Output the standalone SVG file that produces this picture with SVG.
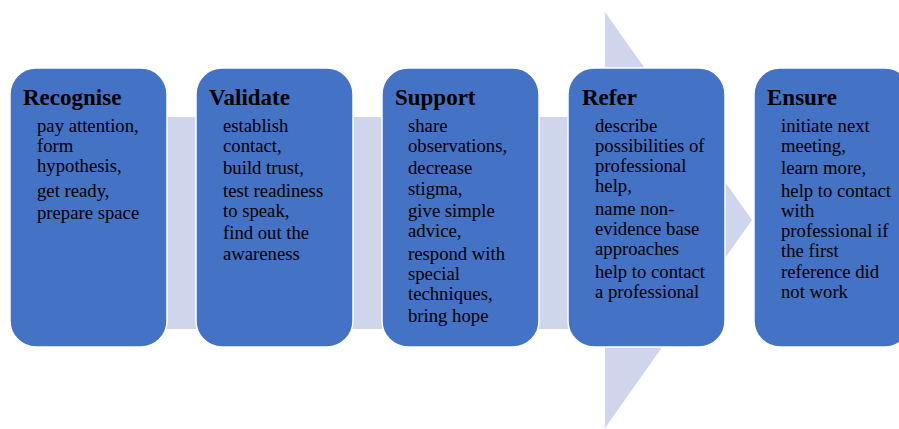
<svg xmlns="http://www.w3.org/2000/svg" width="899" height="429" viewBox="0 0 899 429">
  <style>
    .step { fill: #4472C4; stroke: #FFFFFF; stroke-width: 1.5; }
    .title { font-family: "Liberation Serif", "Times New Roman", serif; font-size: 23px; font-weight: bold; fill: #000000; }
    .body { font-family: "Liberation Serif", "Times New Roman", serif; font-size: 18.7px; fill: #000000; }
  </style>
  <rect width="899" height="429" fill="#FFFFFF"/>

  <!-- background process arrow -->
  <g id="connectors">
    <polygon points="10,117 605,117 605,12 752,220 605,428 605,329 10,329" fill="#CFD5EA"/>
  </g>

  <g id="recognise">
    <rect class="step" x="10" y="68" width="157" height="279" rx="26" ry="26"/>
    <text class="title" x="23" y="105">Recognise</text>
    <text class="body">
      <tspan x="37" y="131.7">pay attention,</tspan>
      <tspan x="37" y="151.9">form</tspan>
      <tspan x="37" y="172.1">hypothesis,</tspan>
      <tspan x="37" y="196.5">get ready,</tspan>
      <tspan x="37" y="218.9">prepare space</tspan>
    </text>
  </g>

  <g id="validate">
    <rect class="step" x="196" y="68" width="157" height="279" rx="26" ry="26"/>
    <text class="title" x="209" y="105">Validate</text>
    <text class="body">
      <tspan x="223" y="131.7">establish</tspan>
      <tspan x="223" y="151.9">contact,</tspan>
      <tspan x="223" y="174.3">build trust,</tspan>
      <tspan x="223" y="196.7">test readiness</tspan>
      <tspan x="223" y="216.9">to speak,</tspan>
      <tspan x="223" y="239.3">find out the</tspan>
      <tspan x="223" y="259.5">awareness</tspan>
    </text>
  </g>

  <g id="support">
    <rect class="step" x="382" y="68" width="157" height="279" rx="26" ry="26"/>
    <text class="title" x="395" y="105">Support</text>
    <text class="body">
      <tspan x="408" y="131.7">share</tspan>
      <tspan x="408" y="151.9">observations,</tspan>
      <tspan x="408" y="174.3">decrease</tspan>
      <tspan x="408" y="194.5">stigma,</tspan>
      <tspan x="408" y="216.9">give simple</tspan>
      <tspan x="408" y="237.1">advice,</tspan>
      <tspan x="408" y="259.5">respond with</tspan>
      <tspan x="408" y="279.7">special</tspan>
      <tspan x="408" y="299.9">techniques,</tspan>
      <tspan x="408" y="322.3">bring hope</tspan>
    </text>
  </g>

  <g id="refer">
    <rect class="step" x="568" y="68" width="157" height="279" rx="26" ry="26"/>
    <text class="title" x="582" y="105">Refer</text>
    <text class="body">
      <tspan x="595" y="131.7">describe</tspan>
      <tspan x="595" y="151.9">possibilities of</tspan>
      <tspan x="595" y="172.1">professional</tspan>
      <tspan x="595" y="192.3">help,</tspan>
      <tspan x="595" y="214.7">name non-</tspan>
      <tspan x="595" y="234.9">evidence base</tspan>
      <tspan x="595" y="255.1">approaches</tspan>
      <tspan x="595" y="277.5">help to contact</tspan>
      <tspan x="595" y="297.7">a professional</tspan>
    </text>
  </g>

  <g id="ensure">
    <rect class="step" x="754" y="68" width="157" height="279" rx="26" ry="26"/>
    <text class="title" x="767" y="105">Ensure</text>
    <text class="body">
      <tspan x="781" y="131.7">initiate next</tspan>
      <tspan x="781" y="151.9">meeting,</tspan>
      <tspan x="781" y="174.3">learn more,</tspan>
      <tspan x="781" y="196.7">help to contact</tspan>
      <tspan x="781" y="216.9">with</tspan>
      <tspan x="781" y="237.1">professional if</tspan>
      <tspan x="781" y="257.3">the first</tspan>
      <tspan x="781" y="277.5">reference did</tspan>
      <tspan x="781" y="297.7">not work</tspan>
    </text>
  </g>
</svg>
